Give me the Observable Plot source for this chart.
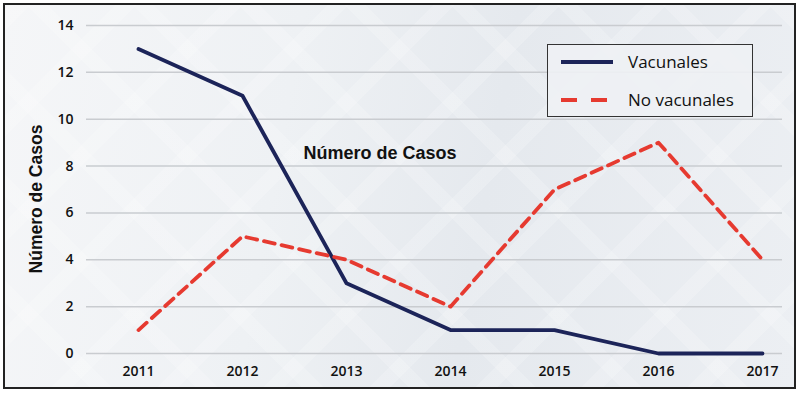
<!DOCTYPE html>
<html>
<head>
<meta charset="utf-8">
<script src="https://cdn.jsdelivr.net/npm/d3@7"></script>
<script src="https://cdn.jsdelivr.net/npm/@observablehq/plot@0.6"></script>
<style>
  html, body { margin: 0; padding: 0; background: #fff; }
  #wrap { position: relative; width: 800px; height: 394px; overflow: hidden; }
  #frame { position: absolute; left: 3px; top: 3px; width: 789px; height: 382px;
    border: 2px solid #222;
    background:
      repeating-linear-gradient(45deg, rgba(255,255,255,0) 0 60px, rgba(255,255,255,0.18) 60px 75px),
      repeating-linear-gradient(-45deg, rgba(255,255,255,0) 0 60px, rgba(255,255,255,0.18) 60px 75px),
      linear-gradient(100deg, #f5f6f8 0%, #eef1f4 35%, #e5e9ee 60%, #eceff3 100%); }
  #chart { position: absolute; left: 0; top: 0; }
  .ylab { position: absolute; left: 36px; top: 199px; transform: translate(-50%, -50%) rotate(-90deg);
    font-family: "Liberation Sans", Arial, sans-serif; font-weight: bold; font-size: 17.5px; color: #111; white-space: nowrap; }
  .title { position: absolute; left: 380px; top: 153px; transform: translate(-50%, -50%);
    font-family: "Liberation Sans", Arial, sans-serif; font-weight: bold; font-size: 18px; color: #111; white-space: nowrap; }
  .legend { position: absolute; left: 547px; top: 44px; width: 204px; height: 71px; border: 1.5px solid #333;
    background: rgba(238,241,244,0.9); font-family: "Open Sans", sans-serif; font-size: 17px; color: #111; }
  .legend .row { position: absolute; left: 0; display: flex; align-items: center; }
  .legend svg { display: block; }
</style>
</head>
<body>
<div id="wrap">
  <div id="frame"></div>
  <div id="chart"></div>
  <div class="ylab">Número de Casos</div>
  <div class="title">Número de Casos</div>
  <div class="legend" id="legend"></div>
</div>
<script>
const years = ["2011", "2012", "2013", "2014", "2015", "2016", "2017"];
const vacunales = [13, 11, 3, 1, 1, 0, 0];
const noVacunales = [1, 5, 4, 2, 7, 9, 4];
const yTicks = [0, 2, 4, 6, 8, 10, 12, 14];
const seriesNames = ["Vacunales", "No vacunales"];
const seriesColors = ["#1c2459", "#e63a30"];

const data = [];
years.forEach((y, i) => {
  data.push({year: y, value: vacunales[i], serie: seriesNames[0]});
  data.push({year: y, value: noVacunales[i], serie: seriesNames[1]});
});

const plot = Plot.plot({
  width: 800,
  height: 394,
  marginLeft: 86,
  marginRight: 18,
  marginTop: 25,
  marginBottom: 41,
  style: {background: "transparent", fontFamily: "'Open Sans', sans-serif", color: "#111"},
  x: {type: "point", domain: years, padding: 0, insetLeft: 51, insetRight: 20, label: null},
  y: {domain: [0, 14], label: null},
  marks: [
    Plot.gridY(yTicks, {stroke: "#c9ccd0", strokeOpacity: 1, strokeWidth: 1.5}),
    Plot.axisY(yTicks, {tickSize: 0, tickPadding: 13, fontSize: 14, fontWeight: 600, label: null}),
    Plot.axisX({tickSize: 0, tickPadding: 13, fontSize: 14, fontWeight: 600, label: null}),
    Plot.line(data.filter(d => d.serie === seriesNames[0]), {x: "year", y: "value", stroke: seriesColors[0], strokeWidth: 3.8}),
    Plot.line(data.filter(d => d.serie === seriesNames[1]), {x: "year", y: "value", stroke: seriesColors[1], strokeWidth: 3.8, strokeDasharray: "11,7"})
  ]
});
document.getElementById("chart").appendChild(plot);

const legend = document.getElementById("legend");
seriesNames.forEach((name, i) => {
  const row = document.createElement("div");
  row.className = "row";
  row.style.top = (i === 0 ? 5 : 43) + "px";
  row.style.left = "13px";
  const dash = i === 0 ? "" : ` stroke-dasharray="16,14"`;
  row.innerHTML = `<svg width="54" height="12"><line x1="0" y1="6" x2="52" y2="6" stroke="${seriesColors[i]}" stroke-width="4"${dash}/></svg><span style="margin-left:13px">${name}</span>`;
  legend.appendChild(row);
});
</script>
</body>
</html>
